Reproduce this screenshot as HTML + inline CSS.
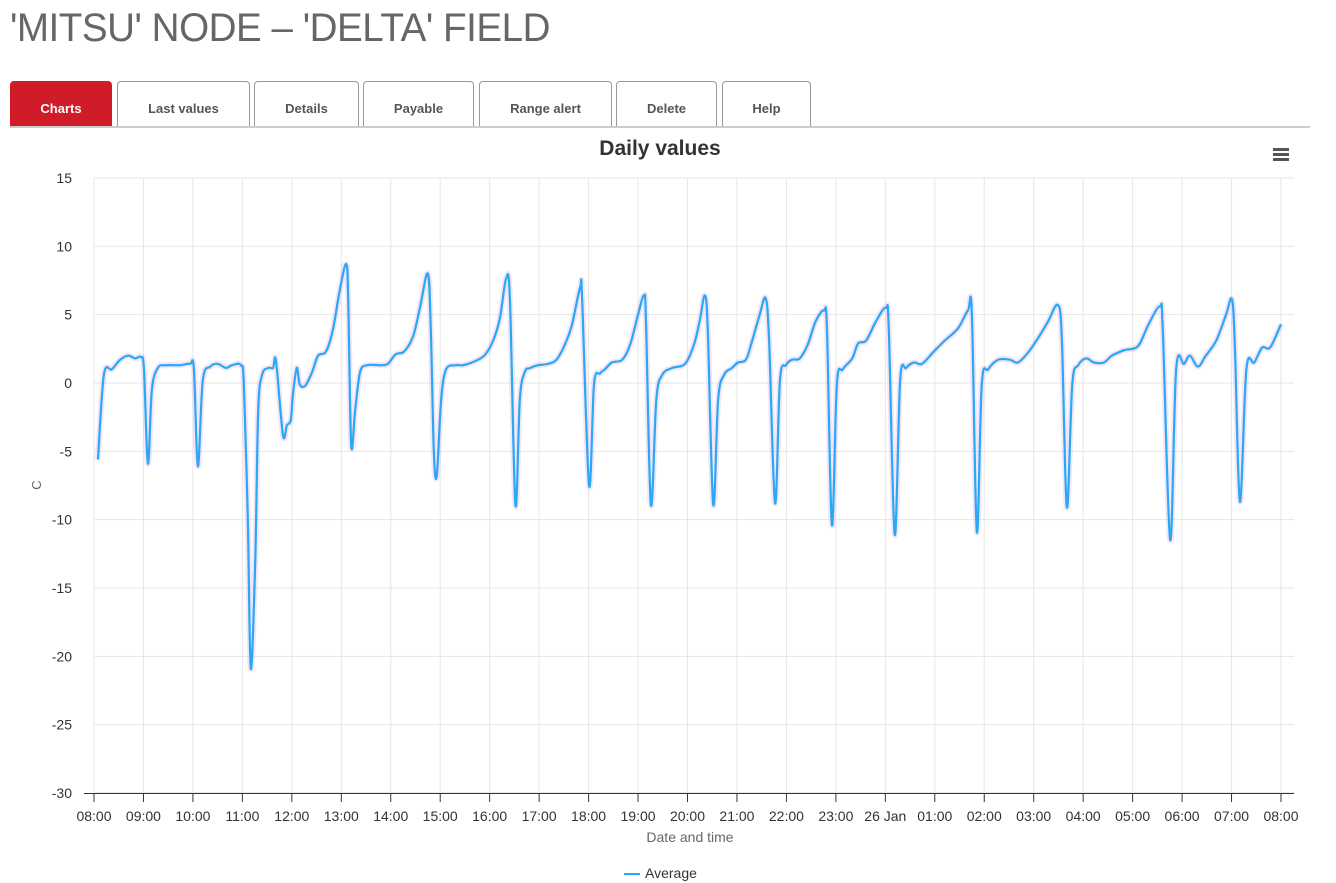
<!DOCTYPE html>
<html><head><meta charset="utf-8"><style>
body{margin:0;width:1336px;height:883px;background:#fff;font-family:"Liberation Sans",sans-serif;position:relative;overflow:hidden}
h1{position:absolute;left:10px;top:6px;margin:0;font-weight:normal;font-size:40px;color:#666;letter-spacing:-0.5px;transform:scaleX(0.965);transform-origin:left}
.tab{position:absolute;top:81px;height:45px;border:1px solid #999;border-bottom:none;border-radius:4px 4px 0 0;background:#fff;font-size:13px;font-weight:bold;color:#555;text-align:center;line-height:54px;box-sizing:border-box}
.tab.active{background:#cf1c28;color:#fff;border-color:#cf1c28}
#rule{position:absolute;left:10px;top:126px;width:1300px;height:2px;background:#ccc}
svg{position:absolute;left:0;top:0}
</style></head><body>
<h1>'MITSU' NODE – 'DELTA' FIELD</h1>
<div class="tab active" style="left:10px;width:102px">Charts</div>
<div class="tab" style="left:117px;width:133px">Last values</div>
<div class="tab" style="left:254px;width:105px">Details</div>
<div class="tab" style="left:363px;width:111px">Payable</div>
<div class="tab" style="left:479px;width:133px">Range alert</div>
<div class="tab" style="left:616px;width:101px">Delete</div>
<div class="tab" style="left:722px;width:89px">Help</div>
<div id="rule"></div>
<svg id="chart" width="1336" height="883"></svg>
<script>
const yTicks=[15,10,5,0,-5,-10,-15,-20,-25,-30];
const xTickLabels=["08:00","09:00","10:00","11:00","12:00","13:00","14:00","15:00","16:00","17:00","18:00","19:00","20:00","21:00","22:00","23:00","26 Jan","01:00","02:00","03:00","04:00","05:00","06:00","07:00","08:00"];
const hours=[0.08,0.2,0.36,0.53,0.69,0.83,0.95,1.01,1.09,1.17,1.29,1.44,1.74,1.94,2.02,2.1,2.2,2.35,2.5,2.67,2.79,2.97,3.03,3.11,3.17,3.26,3.32,3.4,3.52,3.62,3.68,3.82,3.9,3.98,4.02,4.1,4.16,4.27,4.41,4.53,4.69,4.83,4.97,5.1,5.14,5.2,5.28,5.38,5.52,5.79,5.94,6.1,6.27,6.45,6.59,6.75,6.81,6.87,6.93,7.02,7.12,7.32,7.46,7.64,7.89,8.07,8.21,8.33,8.41,8.52,8.61,8.71,8.82,8.98,9.18,9.35,9.52,9.66,9.83,9.87,10.01,10.11,10.23,10.33,10.47,10.68,10.84,11.0,11.12,11.16,11.26,11.37,11.49,11.69,11.95,12.13,12.25,12.35,12.41,12.52,12.62,12.74,12.9,13.02,13.18,13.3,13.46,13.58,13.65,13.77,13.87,13.99,14.11,14.27,14.43,14.59,14.76,14.82,14.92,15.02,15.14,15.33,15.45,15.61,15.81,16.01,16.07,16.19,16.3,16.42,16.58,16.74,16.98,17.2,17.47,17.67,17.75,17.85,17.95,18.08,18.28,18.52,18.68,18.88,19.09,19.29,19.49,19.57,19.67,19.78,19.9,20.06,20.22,20.42,20.58,20.83,21.11,21.31,21.55,21.61,21.76,21.88,22.04,22.16,22.32,22.48,22.69,22.89,23.01,23.07,23.17,23.3,23.46,23.62,23.78,24.0];
const values=[-5.6,0.6,1.0,1.7,2.0,1.8,1.9,1.0,-5.9,-0.5,1.1,1.3,1.3,1.4,1.0,-6.1,0.2,1.2,1.4,1.1,1.3,1.3,-0.1,-10,-20.9,-13,-2,0.6,1.1,1.1,1.6,-3.8,-3.1,-2.7,-0.9,1.1,-0.1,-0.2,0.8,2.0,2.3,3.9,6.8,8.7,6.1,-4.5,-2,0.8,1.3,1.3,1.4,2.1,2.3,3.4,5.5,8.0,3.9,-4.9,-6.8,-1.2,1.0,1.3,1.3,1.5,2.0,3.1,4.8,7.6,6.1,-8.9,-1.2,0.8,1.1,1.3,1.4,1.7,2.8,4.2,7.0,6.1,-7.5,-0.1,0.7,1.0,1.5,1.7,2.8,5.0,6.4,4.6,-8.9,-1.2,0.6,1.1,1.4,2.8,4.6,6.4,3.9,-8.9,-1.2,0.6,1.1,1.5,1.7,3.0,5.0,6.2,3.1,-8.8,0.2,1.3,1.7,1.8,2.8,4.5,5.3,3.9,-10.4,-0.1,1.0,1.8,2.9,3.1,4.5,5.5,3.9,-11.1,0.2,1.1,1.5,1.4,2.3,3.1,4.0,5.3,5.0,-10.9,-0.1,1.0,1.7,1.7,1.5,2.2,3.3,4.5,5.7,3.1,-9.1,-0.1,1.3,1.8,1.5,1.5,2.0,2.4,2.7,4.2,5.6,3.9,-11.5,1.0,1.4,2.0,1.2,2.0,3.1,5.0,6.1,2.4,-8.7,1.0,1.5,2.6,2.6,4.3];

const svg=document.getElementById('chart');const NS='http://www.w3.org/2000/svg';
const X0=94,X1=1281,Y0=178,Y1=793;
const xs=h=>X0+h*(X1-X0)/24;
const ys=v=>Y0+(15-v)*(Y1-Y0)/45;
function mk(t,a,txt){const e=document.createElementNS(NS,t);for(const k in a)e.setAttribute(k,a[k]);if(txt!==undefined)e.textContent=txt;svg.appendChild(e);return e;}
yTicks.forEach(v=>{
 const g=mk('line',{x1:X0,x2:1294,y1:ys(v),y2:ys(v),stroke:v===-30?'#ccd6eb':'#e6e6e6','stroke-width':1});
 
 
 const t=mk('text',{x:72,y:ys(v)+5,'text-anchor':'end','font-size':14,fill:'#333'},String(v));
 
 
});
xTickLabels.forEach((l,i)=>{
 const x=xs(i);
 const g=mk('line',{x1:x,x2:x,y1:Y0,y2:Y1,stroke:'#e6e6e6','stroke-width':1});
 
 
 const tk=mk('line',{x1:x,x2:x,y1:Y1,y2:Y1+9,stroke:'#333','stroke-width':1});
 
 
 const t=mk('text',{x:x,y:821,'text-anchor':'middle','font-size':14,fill:'#333'},l);
 
 
});
const ax=mk('line',{x1:X0-10,x2:1294,y1:Y1+0.5,y2:Y1+0.5,stroke:'#333','stroke-width':1});


const pts=hours.map((h,i)=>[xs(h),ys(values[i])]);
let d='M'+pts[0][0]+','+pts[0][1];
for(let i=0;i<pts.length-1;i++){
 const p0=pts[Math.max(0,i-1)],p1=pts[i],p2=pts[i+1],p3=pts[Math.min(pts.length-1,i+2)];
 const c1=[p1[0]+(p2[0]-p0[0])/6,p1[1]+(p2[1]-p0[1])/6],c2=[p2[0]-(p3[0]-p1[0])/6,p2[1]-(p3[1]-p1[1])/6];
 d+=` C${c1[0]},${c1[1]} ${c2[0]},${c2[1]} ${p2[0]},${p2[1]}`;
}
const band=mk('path',{d:d,fill:'none',stroke:'rgba(220,180,230,0.35)','stroke-width':6});


const line=mk('path',{d:d,fill:'none',stroke:'#2aa7f5','stroke-width':2.2,'stroke-linejoin':'round'});


const title=mk('text',{x:660,y:155,'text-anchor':'middle','font-size':21,'font-weight':'bold',fill:'#333'},'Daily values');


const yt=mk('text',{x:0,y:0,'text-anchor':'middle','font-size':13,fill:'#666',transform:'translate(41,485) rotate(-90)'},'C');


const xt=mk('text',{x:690,y:842,'text-anchor':'middle','font-size':14,fill:'#666'},'Date and time');


const menu=mk('g',{});


[149,154,159].forEach(y=>{const r=document.createElementNS(NS,'rect');r.setAttribute('x',1273);r.setAttribute('y',y-1);r.setAttribute('width',16);r.setAttribute('height',3);r.setAttribute('fill','#555');menu.appendChild(r);});
const lg=mk('g',{});


const ll=document.createElementNS(NS,'line');ll.setAttribute('x1',624);ll.setAttribute('x2',640);ll.setAttribute('y1',874);ll.setAttribute('y2',874);ll.setAttribute('stroke','#2aa7f5');ll.setAttribute('stroke-width',2);lg.appendChild(ll);
const lt=document.createElementNS(NS,'text');lt.setAttribute('x',645);lt.setAttribute('y',878);lt.setAttribute('font-size',14);lt.setAttribute('fill','#333');lt.textContent='Average';lg.appendChild(lt);
</script>
</body></html>
